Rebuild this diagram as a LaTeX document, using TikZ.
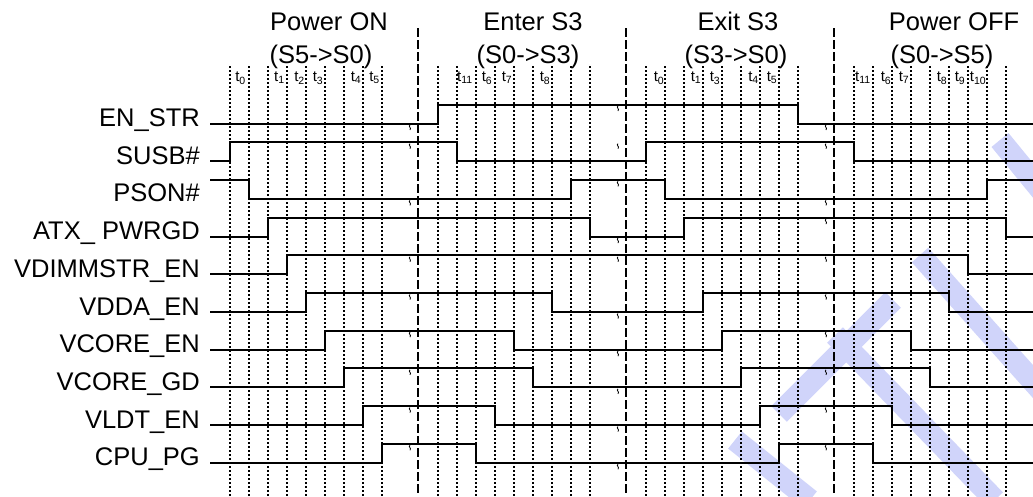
\documentclass[tikz,border=0pt]{standalone}
\usepackage{fontspec}
\setmainfont{Liberation Sans}
\usetikzlibrary{positioning}
\definecolor{wmark}{RGB}{208,212,250}
\begin{document}
\begin{tikzpicture}
  [x=1pt, y=-1pt,
   sig/.style={anchor=base east, inner sep=0pt, font=\fontsize{25.5}{30}\selectfont},
   head/.style={anchor=base, inner sep=0pt, font=\fontsize{25.5}{30}\selectfont},
   tlab/.style={anchor=base, inner sep=0pt, font=\fontsize{15}{18}\selectfont},
   wave/.style={line width=2pt},
   tline/.style={line width=2pt, dash pattern=on 2pt off 2pt},
   sline/.style={line width=2.3pt, dash pattern=on 9pt off 3pt},
   brk/.style={line width=0.8pt},
   band/.style={wmark, line width=22pt}]
  \useasboundingbox (0,0) rectangle (1033,496);

  % watermark strokes
  \draw[band] (779,414) -- (893,300);
  \draw[band] (835,335) -- (995,500);
  \draw[band] (920,255) -- (1045,395);
  \draw[band] (1000,140) -- (1045,195);
  \draw[band] (735,440) -- (810,500);

  % phase titles
  \node[head] (on)   at (329,30.7) {Power ON};
  \node[head] (ons)  at (321,63.3) {(S5->S0)};
  \node[head] (ent)  at (533,30.7) {Enter S3};
  \node[head] (ents) at (528,63.3) {(S0->S3)};
  \node[head] (ext)  at (738,30.7) {Exit S3};
  \node[head] (exts) at (736,63.3) {(S3->S0)};
  \node[head] (off)  at (954,30.7) {Power OFF};
  \node[head] (offs) at (942,63.3) {(S0->S5)};

  % signal names
  \foreach \nm/\txt [count=\i from 0] in {enstr/EN\_STR, susb/SUSB\#, pson/PSON\#,
      atx/ATX\_ PWRGD, vdimm/VDIMMSTR\_EN, vdda/VDDA\_EN, vcoreen/VCORE\_EN,
      vcoregd/VCORE\_GD, vldt/VLDT\_EN, cpupg/CPU\_PG}
    \node[sig] (\nm) at (200,{126.5+37.7*\i}) {\txt};

  % time grid
  \foreach \s in {0,...,3}
    \foreach \k in {0,...,8}
      \draw[tline] ({230+208*\s+19*\k},66) -- ++(0,430);
  \foreach \d in {418,626,834}
    \draw[sline] (\d,28.3) -- (\d,496);

  \foreach \x/\t [count=\n] in {240.5/0, 279.5/1, 299.5/2, 318/3, 356/4, 374.5/5,
      465/11, 487/6, 507/7, 545/8,
      659/0, 696/1, 715/3, 753.5/4, 772/5,
      863/11, 886/6, 904/7, 942/8, 960/9, 978/10}
    \node[tlab] (tl\n) at (\x,81.7) {t\textsubscript{\t}};

  % waveforms
  \draw[wave] (210,123.5) -| (438,104.5) -| (798,123.5) -- (1033,123.5);
  \draw[wave] (210,161.2) -| (230,142.2) -| (457,161.2) -| (646,142.2) -| (854,161.2) -- (1033,161.2);
  \draw[wave] (210,179.9) -| (249,198.9) -| (571,179.9) -| (665,198.9) -| (987,179.9) -- (1033,179.9);
  \draw[wave] (210,236.6) -| (268,217.6) -| (590,236.6) -| (684,217.6) -| (1006,236.6) -- (1033,236.6);
  \draw[wave] (210,274.3) -| (287,255.3) -| (968,274.3) -- (1033,274.3);
  \draw[wave] (210,312) -| (306,293) -| (552,312) -| (703,293) -| (949,312) -- (1033,312);
  \draw[wave] (210,349.7) -| (325,330.7) -| (514,349.7) -| (722,330.7) -| (911,349.7) -- (1033,349.7);
  \draw[wave] (210,387.4) -| (344,368.4) -| (533,387.4) -| (741,368.4) -| (930,387.4) -- (1033,387.4);
  \draw[wave] (210,425.1) -| (363,406.1) -| (495,425.1) -| (760,406.1) -| (892,425.1) -- (1033,425.1);
  \draw[wave] (210,462.8) -| (382,443.8) -| (476,462.8) -| (779,443.8) -| (873,462.8) -- (1033,462.8);

  % break marks
  \foreach \x/\y in {410/123.5, 410/142.2, 410/198.9, 410/255.3, 410/293, 410/330.7,
      410/368.4, 410/406.1, 410/443.8,
      618/104.5, 618/142.2, 618/179.9, 618/236.6, 618/255.3, 618/312, 618/349.7,
      618/387.4, 618/425.1, 618/462.8,
      826/123.5, 826/142.2, 826/198.9, 826/217.6, 826/255.3, 826/293, 826/330.7,
      826/368.4, 826/406.1, 826/443.8}
    \draw[brk] (\x,\y+1.5) .. controls ({\x-2.5},{\y+3}) and ({\x+2},{\y+4}) .. (\x,\y+6.5);
\end{tikzpicture}
\end{document}
